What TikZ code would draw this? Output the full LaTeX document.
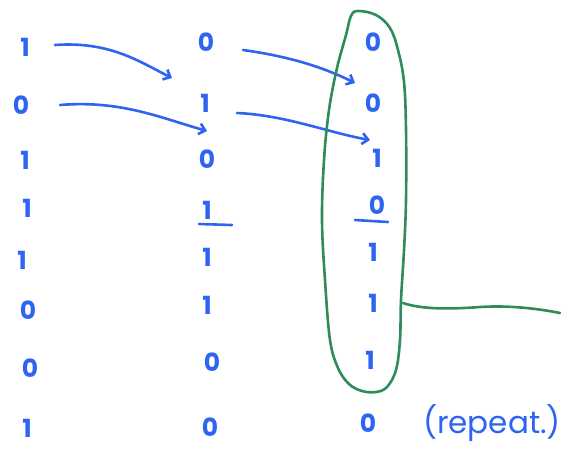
\documentclass[tikz,border=0pt]{standalone}
\usepackage{fontspec}
\setmainfont{Poppins}
\usetikzlibrary{arrows.meta,calc}
\definecolor{inkblue}{RGB}{45,100,242}
\definecolor{inkgreen}{RGB}{46,140,90}
\tikzset{
  digit/.style={text=inkblue,font=\fontsize{25}{27}\selectfont\bfseries,inner sep=0pt},
  ink/.style={draw=inkblue,line width=2.6pt,line cap=round,line join=round},
  shiftarrow/.style={ink,-{Straight Barb[length=6pt,width=11pt,line width=2.6pt]}},
  loop/.style={draw=inkgreen,line width=2.6pt,line cap=round,line join=round}
}
\begin{document}
\begin{tikzpicture}[x=1pt,y=-1pt]
\useasboundingbox (0,0) rectangle (561,451);
% column 1
\node[digit] (a1) at (25,47) {1};
\node[digit] (a2) at (21,105) {0};
\node[digit] (a3) at (25,160) {1};
\node[digit] (a4) at (27,208) {1};
\node[digit] (a5) at (22,260) {1};
\node[digit] (a6) at (28,310) {0};
\node[digit] (a7) at (30,368) {0};
\node[digit] (a8) at (27,428) {1};
% column 2
\node[digit] (b1) at (206,42) {0};
\node[digit] (b2) at (205,103) {1};
\node[digit] (b3) at (207,159) {0};
\node[digit] (b4) at (207,210) {1};
\node[digit] (b5) at (207,257) {1};
\node[digit] (b6) at (207,305) {1};
\node[digit] (b7) at (212,362) {0};
\node[digit] (b8) at (210,427) {0};
% column 3
\node[digit] (c1) at (373,42) {0};
\node[digit] (c2) at (373,103) {0};
\node[digit] (c3) at (377,158) {1};
\node[digit] (c4) at (377,205) {0};
\node[digit] (c5) at (373,252) {1};
\node[digit] (c6) at (373,303) {1};
\node[digit] (c7) at (370,360) {1};
\node[digit] (c8) at (368,423) {0};
% underlines
\draw[ink] ($(b4)+(-8,14)$) -- ($(b4)+(25,15)$);
\draw[ink] ($(c4)+(-22,15)$) -- ($(c4)+(11,17)$);
% shift arrows
\draw[shiftarrow] ($(a1)+(30,-2)$) .. controls ($(a1)+(85,-6)$) and ($(a1)+(115,15)$) .. ($(b1)+(-34,36)$);
\draw[shiftarrow] ($(a2)+(39,0)$) .. controls ($(a2)+(100,-5)$) and ($(a2)+(140,13)$) .. ($(b2)+(2,28)$);
\draw[shiftarrow] ($(b1)+(37,8)$) .. controls ($(b1)+(80,14)$) and ($(b1)+(115,24)$) .. ($(c2)+(-18,-20)$);
\draw[shiftarrow] ($(b2)+(32,10)$) .. controls ($(b2)+(80,12)$) and ($(b2)+(125,30)$) .. ($(c3)+(-7,-18)$);
% green loop
\draw[loop] plot[smooth cycle,tension=0.6] coordinates {
  (358,11) (376,15) (390,28) (398,50) (404,82) (406,130) (406,200) (404,250)
  (401,300) (400,340) (396,370) (387,387) (376,392) (362,391) (349,384)
  (338,368) (330,340) (325,280) (322,220) (324,160) (329,110) (337,68) (346,35) (351,16)};
\draw[loop] (403,303) .. controls (418,308) and (440,310) .. (480,307) .. controls (510,305) and (540,309) .. (560,313);
% label
\node[text=inkblue,font=\fontsize{31}{33}\selectfont,inner sep=0pt] (rep) at (492,423) {(repeat.)};
\end{tikzpicture}
\end{document}
